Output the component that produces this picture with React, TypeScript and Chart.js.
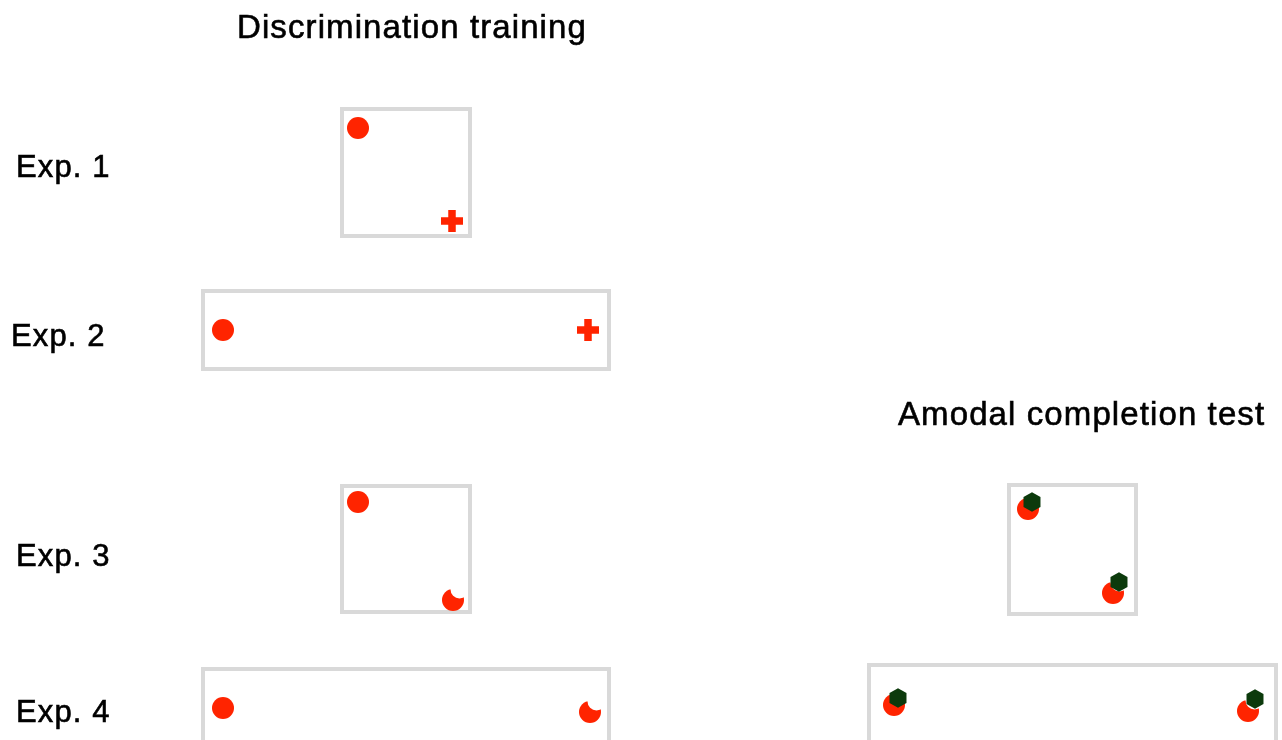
import React, { useEffect, useRef } from "react";
import { Chart, registerables } from "chart.js";

Chart.register(...registerables);

// Layout units (x: 0..1282, y: 0..740, y downward)
const titleTexts = ["Discrimination training", "Amodal completion test"];
const titleX = [237, 898];
const titleY = [38, 425];

const expTexts = ["Exp. 1", "Exp. 2", "Exp. 3", "Exp. 4"];
const expX = [16, 11, 16, 16];
const expY = [177, 346, 566, 722];

// Frames: left, top, right, bottom
const frameLeft = [342, 203, 342, 1009, 203, 869];
const frameTop = [109, 291, 486, 485, 669, 665];
const frameRight = [470, 609, 470, 1136, 609, 1276];
const frameBottom = [236, 369, 612, 614, 770, 770];

// Stimuli positions
const discX = [358, 223, 358, 1028, 223, 894];
const discY = [128, 330, 502, 509, 708, 705];
const crossX = [452, 588];
const crossY = [221, 330];
const notchedX = [453, 1113, 590, 1248];
const notchedY = [600, 593, 712, 711];
const hexX = [1032, 1119, 898, 1255];
const hexY = [502, 582, 698, 699];

const RED = "#ff2400";
const GREEN = "#0c3a0c";
const FRAME = "#d9d9d9";

function makeNotched(): HTMLCanvasElement {
  const c = document.createElement("canvas");
  c.width = 30;
  c.height = 30;
  const g = c.getContext("2d")!;
  g.fillStyle = RED;
  g.beginPath();
  g.arc(15, 15, 11, 0, Math.PI * 2);
  g.fill();
  g.globalCompositeOperation = "destination-out";
  g.beginPath();
  g.arc(21.5, 4.5, 9, 0, Math.PI * 2);
  g.fill();
  return c;
}

function makeHex(): HTMLCanvasElement {
  const c = document.createElement("canvas");
  c.width = 24;
  c.height = 24;
  const g = c.getContext("2d")!;
  g.fillStyle = GREEN;
  g.beginPath();
  for (let i = 0; i < 6; i++) {
    const a = -Math.PI / 2 + (i * Math.PI) / 3;
    const px = 12 + 9.8 * Math.cos(a);
    const py = 12 + 9.8 * Math.sin(a);
    if (i === 0) g.moveTo(px, py);
    else g.lineTo(px, py);
  }
  g.closePath();
  g.fill();
  return c;
}

const textPlugin = {
  id: "diagramText",
  afterDatasetsDraw(chart: any) {
    const { ctx, scales } = chart;
    ctx.save();
    ctx.fillStyle = "#000";
    ctx.strokeStyle = "#000";
    ctx.lineWidth = 0.6;
    ctx.textAlign = "left";
    ctx.textBaseline = "alphabetic";
    try {
      (ctx as any).letterSpacing = "1.1px";
    } catch (e) {}
    ctx.font = "33px 'Liberation Sans', Arial, sans-serif";
    titleTexts.forEach((t, i) => {
      const x = scales.x.getPixelForValue(titleX[i]);
      const y = scales.y.getPixelForValue(titleY[i]);
      ctx.fillText(t, x, y);
      ctx.strokeText(t, x, y);
    });
    ctx.font = "31px 'Liberation Sans', Arial, sans-serif";
    expTexts.forEach((t, i) => {
      const x = scales.x.getPixelForValue(expX[i]);
      const y = scales.y.getPixelForValue(expY[i]);
      ctx.fillText(t, x, y);
      ctx.strokeText(t, x, y);
    });
    ctx.restore();
  },
};

export default function App() {
  const ref = useRef<HTMLCanvasElement>(null);

  useEffect(() => {
    document.body.style.margin = "0";
    const notched = makeNotched();
    const hex = makeHex();

    const frameSets = frameLeft.map((l, i) => ({
      type: "line" as const,
      data: [
        { x: l, y: frameTop[i] },
        { x: frameRight[i], y: frameTop[i] },
        { x: frameRight[i], y: frameBottom[i] },
        { x: l, y: frameBottom[i] },
        { x: l, y: frameTop[i] },
        { x: frameRight[i], y: frameTop[i] },
      ],
      borderColor: FRAME,
      borderWidth: 4,
      pointRadius: 0,
      showLine: true,
      fill: false,
      tension: 0,
      borderJoinStyle: "miter" as const,
      order: 10,
    }));

    const chart = new Chart(ref.current!, {
      type: "scatter",
      data: {
        datasets: [
          ...frameSets,
          {
            data: discX.map((x, i) => ({ x, y: discY[i] })),
            pointStyle: "circle",
            pointRadius: 11,
            backgroundColor: RED,
            borderWidth: 0,
            order: 5,
          },
          {
            data: notchedX.map((x, i) => ({ x, y: notchedY[i] })),
            pointStyle: notched,
            pointRadius: 11,
            order: 4,
          },
          {
            data: crossX.map((x, i) => ({ x, y: crossY[i] })),
            pointStyle: "cross",
            pointRadius: 11,
            borderColor: RED,
            borderWidth: 7.5,
            order: 3,
          },
          {
            data: hexX.map((x, i) => ({ x, y: hexY[i] })),
            pointStyle: hex,
            pointRadius: 10,
            order: 1,
          },
        ] as any,
      },
      options: {
        animation: false,
        responsive: false,
        events: [],
        layout: { padding: 0, autoPadding: false },
        plugins: {
          legend: { display: false },
          tooltip: { enabled: false },
          title: { display: false },
        },
        scales: {
          x: { type: "linear", min: 0, max: 1282, display: false },
          y: { type: "linear", min: 0, max: 740, reverse: true, display: false },
        },
      },
      plugins: [textPlugin],
    });
    return () => chart.destroy();
  }, []);

  return (
    <div style={{ position: "fixed", left: 0, top: 0, width: 1282, height: 740, background: "#fff" }}>
      <canvas ref={ref} width={1282} height={740} style={{ display: "block" }} />
    </div>
  );
}
